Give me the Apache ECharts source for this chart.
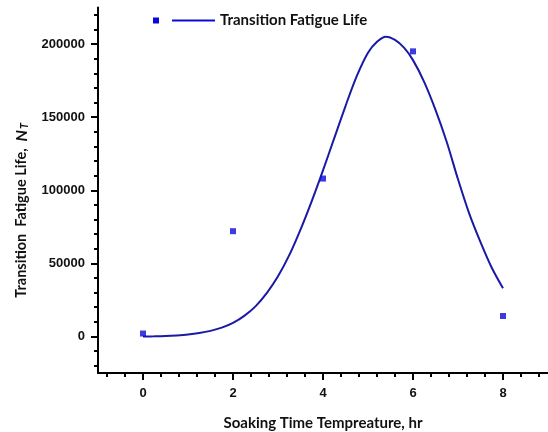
<!DOCTYPE html>
<html>
<head>
<meta charset="utf-8">
<script src="https://cdn.jsdelivr.net/npm/echarts@6/dist/echarts.min.js"></script>
<style>
  html, body { margin: 0; padding: 0; background: #fff; }
  #chart { width: 548px; height: 432px; }
</style>
</head>
<body>
<div id="chart"></div>
<script>
// Measured transition fatigue life at each soaking time
const soakHours = [0, 2, 4, 6, 8];
const fatigueLife = [2000, 72000, 108000, 195000, 14000];

// Fitted curve through the measurements
const fitHours = [0, 0.25, 0.5, 0.75, 1, 1.25, 1.5, 1.75, 2, 2.25, 2.5, 2.75, 3, 3.25, 3.5, 3.75, 4, 4.25, 4.5, 4.75, 5, 5.2, 5.4, 5.6, 5.8, 6, 6.25, 6.5, 6.75, 7, 7.25, 7.5, 7.75, 8];
const fitLife = [0, 100, 300, 700, 1300, 2300, 3800, 6000, 9300, 14100, 20600, 29600, 41100, 55600, 73100, 92600, 113600, 135600, 157600, 178000, 194000, 201500, 205000, 202800, 197500, 189000, 174000, 155000, 133000, 107500, 84000, 64500, 47000, 33000];

// Axis ticks
const xMajorTicks = [0, 2, 4, 6, 8];
const xMinorTicks = [-0.8, -0.4, 0.4, 0.8, 1.2, 1.6, 2.4, 2.8, 3.2, 3.6, 4.4, 4.8, 5.2, 5.6, 6.4, 6.8, 7.2, 7.6, 8.4, 8.8];
const yMajorTicks = [0, 50000, 100000, 150000, 200000];
const yMinorTicks = [-20000, -10000, 10000, 20000, 30000, 40000, 60000, 70000, 80000, 90000, 110000, 120000, 130000, 140000, 160000, 170000, 180000, 190000, 210000, 220000];

const seriesName = 'Transition Fatigue Life';
const xTitle = 'Soaking Time Tempreature, hr';

const chart = echarts.init(document.getElementById('chart'), null, { renderer: 'canvas' });

const axisFont = { fontFamily: 'Liberation Sans, Arial, sans-serif', fontWeight: 'bold', fontSize: 13, color: '#111' };
const titleFont = { fontFamily: 'Lato, sans-serif', fontWeight: 'bold', color: '#111' };
const X_RANGE = { min: -1, max: 9 };
const Y_RANGE = { min: -25000, max: 225000 };

chart.setOption({
  animation: false,
  backgroundColor: '#fff',
  grid: { left: 98, right: 0, top: 7.5, bottom: 59, containLabel: false, outerBoundsMode: 'none' },
  legend: {
    left: 148, top: 8,
    itemWidth: 62, itemHeight: 6,
    icon: 'path://M0,0h6v6h-6z M19,2h43v2h-43z',
    itemStyle: { color: '#0a0ad8', borderWidth: 0 },
    textStyle: { ...titleFont, fontSize: 15 },
    data: [seriesName]
  },
  xAxis: [
    {
      type: 'value', ...X_RANGE, position: 'bottom',
      name: xTitle, nameLocation: 'middle', nameGap: 43,
      nameTextStyle: { ...titleFont, fontSize: 15 },
      axisLine: { show: true, onZero: false, lineStyle: { color: '#000', width: 2 } },
      axisTick: { show: true, inside: false, length: 7, lineStyle: { color: '#000', width: 2 }, customValues: xMajorTicks },
      axisLabel: { ...axisFont, margin: 14, customValues: xMajorTicks },
      splitLine: { show: false }
    },
    {
      type: 'value', ...X_RANGE, position: 'bottom',
      axisLine: { show: false, onZero: false },
      axisTick: { show: true, inside: false, length: 4, lineStyle: { color: '#000', width: 2 }, customValues: xMinorTicks },
      axisLabel: { show: false },
      splitLine: { show: false }
    }
  ],
  yAxis: [
    {
      type: 'value', ...Y_RANGE, position: 'left',
      name: '{t|Transition  Fatigue Life,  }{n|N}{s|T}',
      nameLocation: 'middle', nameGap: 68,
      nameTextStyle: {
        padding: [0, 40, 0, 0],
        rich: {
          t: { ...titleFont, fontSize: 14.5 },
          n: { ...titleFont, fontStyle: 'italic', fontSize: 16 },
          s: { ...titleFont, fontStyle: 'italic', fontSize: 11, verticalAlign: 'bottom', padding: [6, 0, 0, 1] }
        }
      },
      axisLine: { show: true, onZero: false, lineStyle: { color: '#000', width: 2 } },
      axisTick: { show: true, inside: false, length: 7, lineStyle: { color: '#000', width: 2 }, customValues: yMajorTicks },
      axisLabel: { ...axisFont, margin: 13, customValues: yMajorTicks, formatter: (v) => String(v) },
      splitLine: { show: false }
    },
    {
      type: 'value', ...Y_RANGE, position: 'left',
      axisLine: { show: false, onZero: false },
      axisTick: { show: true, inside: false, length: 4, lineStyle: { color: '#000', width: 2 }, customValues: yMinorTicks },
      axisLabel: { show: false },
      splitLine: { show: false }
    }
  ],
  series: [
    {
      name: seriesName,
      type: 'line',
      xAxisIndex: 0, yAxisIndex: 0,
      data: fitHours.map((h, i) => [h, fitLife[i]]),
      smooth: 0.3,
      showSymbol: false,
      symbol: 'none',
      lineStyle: { color: '#1a1aa6', width: 2 },
      itemStyle: { color: '#1a1aa6' },
      z: 2
    },
    {
      name: 'points',
      type: 'scatter',
      xAxisIndex: 0, yAxisIndex: 0,
      data: soakHours.map((h, i) => [h, fatigueLife[i]]),
      symbol: 'rect',
      symbolSize: 6,
      itemStyle: { color: '#0a0ad8' },
      z: 3
    }
  ]
});
</script>
</body>
</html>
